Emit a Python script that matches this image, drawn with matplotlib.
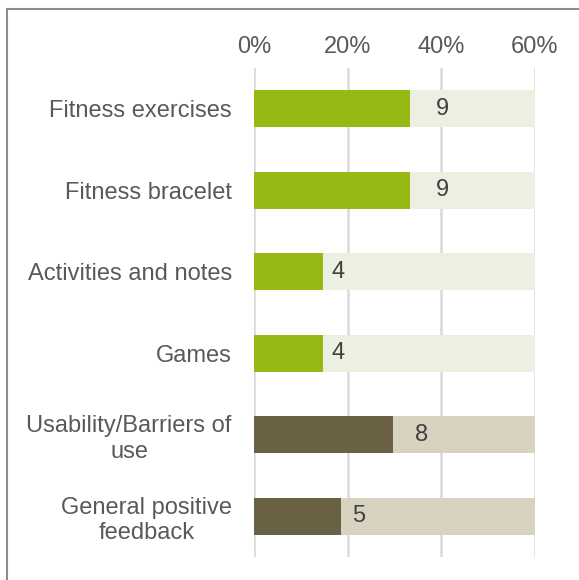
import matplotlib
matplotlib.use("Agg")
import matplotlib.pyplot as plt
from matplotlib.patches import Rectangle

plt.rcParams['font.family'] = ['Liberation Sans', 'DejaVu Sans']

categories = ["Fitness exercises", "Fitness bracelet", "Activities and notes",
              "Games", "Usability/Barriers of\nuse", "General positive\nfeedback"]
counts = [9, 9, 4, 4, 8, 5]
total = 27
percents = [c / total * 100 for c in counts]
max_pct = 60
ticks = [0, 20, 40, 60]
tick_labels = ["0%", "20%", "40%", "60%"]

fg_colors = ["#96B914", "#96B914", "#96B914", "#96B914", "#6A6044", "#6A6044"]
bg_colors = ["#EBF0E0", "#EBF0E0", "#EBF0E0", "#EBF0E0", "#D8D3C0", "#D8D3C0"]
text_color = "#595959"

fig = plt.figure(figsize=(5.79, 5.80), dpi=100)
ax = fig.add_axes([254/579, 1 - 557/580, 281/579, (557-68)/580])

y = list(range(len(categories)))
ax.barh(y, [max_pct]*len(y), height=0.45, color=bg_colors, zorder=2)
ax.barh(y, percents, height=0.45, color=fg_colors, zorder=3)

for yi, p, c in zip(y, percents, counts):
    ax.text(p * 1.21, yi, str(c), ha='center', va='center', fontsize=17,
            color="#404040", zorder=4)

ax.set_ylim(len(y) - 0.5, -0.5)
ax.set_xlim(0, max_pct)
ax.set_xticks(ticks)
ax.set_xticklabels(tick_labels)
ax.xaxis.tick_top()
ax.tick_params(axis='x', length=0, pad=7, labelsize=17, labelcolor=text_color)
ax.set_yticks(y)
ax.set_yticklabels(categories, multialignment='center')
ax.tick_params(axis='y', length=0, pad=16, labelsize=17, labelcolor=text_color)
for s in ax.spines.values():
    s.set_visible(False)
ax.grid(axis='x', color='#D9D9D9', linewidth=1.8, zorder=1)
ax.set_axisbelow(True)

fig.patches.append(Rectangle((6.5/579, -0.1), 1.2, 1.1 - 9.5/580,
                             transform=fig.transFigure, fill=False,
                             edgecolor='#8C8C8C', linewidth=1.5))

fig.savefig("out.png", dpi=100)
